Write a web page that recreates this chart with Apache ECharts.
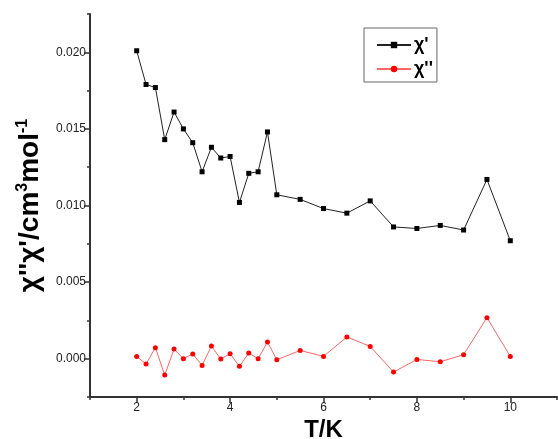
<!DOCTYPE html>
<html>
<head>
<meta charset="utf-8">
<script src="https://cdn.jsdelivr.net/npm/echarts@6/dist/echarts.min.js"></script>
<style>
  html, body { margin: 0; padding: 0; background: #fff; }
  #main { width: 558px; height: 439px; }
</style>
</head>
<body>
<div id="main"></div>
<script>
// temperatures (K)
const temps = [2, 2.2, 2.4, 2.6, 2.8, 3, 3.2, 3.4, 3.6, 3.8, 4, 4.2, 4.4, 4.6, 4.8, 5, 5.5, 6, 6.5, 7, 7.5, 8, 8.5, 9, 9.5, 10]

// chi' (in-phase)
const chiReal = [0.0201, 0.0179, 0.0177, 0.0143, 0.0161, 0.0150, 0.0141, 0.0122, 0.0138, 0.0131, 0.0132, 0.0102,
  0.0121, 0.0122, 0.0148, 0.0107, 0.0104, 0.0098, 0.0095, 0.0103, 0.0086, 0.0085, 0.0087, 0.0084, 0.0117, 0.0077]

// chi'' (out-of-phase)
const chiImag = [0.00015, -0.00035, 0.00072, -0.00107, 0.00063, 0.0, 0.00031, -0.00044, 0.00083, -0.00002, 0.00033, -0.0005,
  0.00037, 0.0, 0.00109, -0.00007, 0.00054, 0.00015, 0.00142, 0.0008, -0.00087, -0.00005, -0.0002, 0.00026, 0.00268, 0.00015]

const xMajor = [2, 4, 6, 8, 10]
const yMajor = [0, 0.005, 0.01, 0.015, 0.02]

const chart = echarts.init(document.getElementById('main'))

const axisColor = '#333'
const font = 'Liberation Sans, Arial, sans-serif'

function pairs(xs, ys) {
  return xs.map((x, i) => [x, ys[i]])
}

const option = {
  animation: false,
  backgroundColor: '#fff',
  textStyle: { fontFamily: font },
  grid: { left: 90, right: 1, top: 14, bottom: 42, outerBoundsMode: 'none' },
  legend: {
    orient: 'vertical',
    left: 364,
    top: 28,
    padding: [8, 4, 4, 12],
    itemGap: 6,
    itemWidth: 34,
    itemHeight: 8,
    borderColor: '#666',
    borderWidth: 1,
    textStyle: { fontFamily: font, fontSize: 18, fontWeight: 'bold', color: '#000', padding: [0, 0, 0, -2] },
    data: ["χ'", "χ''"]
  },
  xAxis: [{
    type: 'value',
    min: 1,
    max: 11,
    interval: 1,
    name: 'T/K',
    nameLocation: 'middle',
    nameGap: 21,
    nameTextStyle: { fontFamily: font, fontSize: 24, fontWeight: 'bold', color: '#000' },
    axisLine: { onZero: false, lineStyle: { color: axisColor, width: 2 } },
    axisTick: { length: 3, lineStyle: { color: axisColor, width: 1.5 } },
    axisLabel: { show: false },
    splitLine: { show: false }
  }, {
    type: 'value',
    min: 1,
    max: 11,
    position: 'bottom',
    axisLine: { show: false, onZero: false },
    axisTick: { show: true, length: 6, customValues: xMajor, lineStyle: { color: axisColor, width: 1.5 } },
    axisLabel: { show: true, customValues: xMajor, fontSize: 12, color: '#222', margin: 5 },
    splitLine: { show: false }
  }],
  yAxis: [{
    type: 'value',
    min: -0.0025,
    max: 0.0225,
    interval: 0.0025,
    name: "{a|χ''χ'/cm}{s|3}{a|mol}{s|-1}",
    nameLocation: 'middle',
    nameGap: 45,
    nameRotate: 90,
    nameTextStyle: {
      rich: {
        a: { fontFamily: font, fontSize: 28, fontWeight: 'bold', color: '#000', lineHeight: 30, verticalAlign: 'middle' },
        s: { fontFamily: font, fontSize: 16, fontWeight: 'bold', color: '#000', lineHeight: 30, verticalAlign: 'top' }
      }
    },
    axisLine: { onZero: false, lineStyle: { color: axisColor, width: 2 } },
    axisTick: { length: 3, lineStyle: { color: axisColor, width: 1.5 } },
    axisLabel: { show: false },
    splitLine: { show: false }
  }, {
    type: 'value',
    min: -0.0025,
    max: 0.0225,
    position: 'left',
    axisLine: { show: false, onZero: false },
    axisTick: { show: true, length: 6, customValues: yMajor, lineStyle: { color: axisColor, width: 1.5 } },
    axisLabel: { show: true, customValues: yMajor, fontSize: 12, color: '#222', margin: 4,
      formatter: v => v.toFixed(3) },
    splitLine: { show: false }
  }],
  series: [{
    name: "χ'",
    type: 'line',
    data: pairs(temps, chiReal),
    symbol: 'rect',
    symbolSize: 5,
    lineStyle: { color: '#222', width: 1 },
    itemStyle: { color: '#000' }
  }, {
    name: "χ''",
    type: 'line',
    data: pairs(temps, chiImag),
    symbol: 'circle',
    symbolSize: 5,
    lineStyle: { color: '#ff6666', width: 1 },
    itemStyle: { color: '#ff0000' }
  }]
}

chart.setOption(option)
</script>
</body>
</html>
